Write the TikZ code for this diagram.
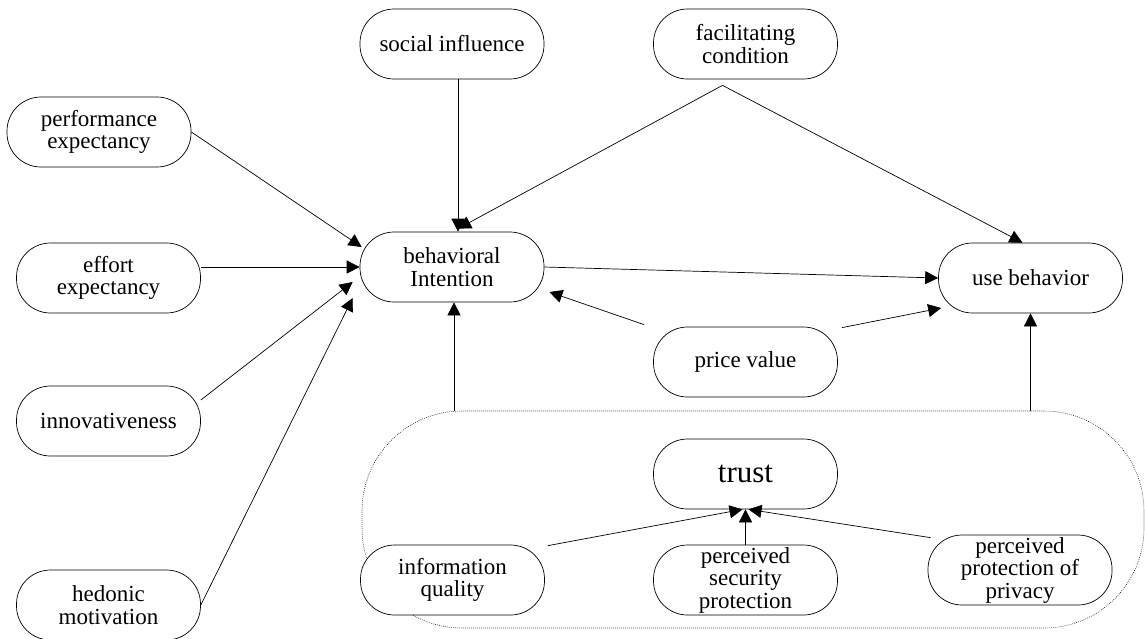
\documentclass[tikz,border=0pt]{standalone}
\usepackage{fontspec}
\setmainfont{Liberation Serif}
\usetikzlibrary{arrows.meta}
\tikzset{
  flowarrow/.style={-{Triangle[length=13pt, width=13pt]}, line width=0.7pt},
  construct/.style={draw, rounded corners=34pt, fill=white, line width=0.7pt, minimum width=184pt, minimum height=70pt, inner sep=1pt, align=center},
  groupbox/.style={draw, line width=0.6pt, dash pattern=on 0.7pt off 1.3pt, rounded corners=100pt, minimum width=782pt, minimum height=217pt}
}

\begin{document}
\begin{tikzpicture}[x=1pt, y=-1pt, every node/.style={font=\fontsize{23}{22.5}\selectfont}]
  \useasboundingbox (0,0) rectangle (1145,638);
  % trust group
  \node[groupbox] (tgrp) at (753,519.5) {};
  \node[construct] (soc) at (452,44) {social influence};
  \node[construct] (fac) at (745.5,44) {facilitating\\condition};
  \node[construct] (perf) at (99,132) {performance\\expectancy};
  \node[construct] (eff) at (108.5,278) {effort\\expectancy};
  \node[construct] (bi) at (452,267) {behavioral\\Intention};
  \node[construct] (ub) at (1030.5,278) {use behavior};
  \node[construct] (inn) at (108.5,421) {innovativeness};
  \node[construct] (hed) at (108.5,605) {hedonic\\motivation};
  \node[construct] (pv) at (745.5,362) {price value};
  \node[construct, font=\fontsize{31}{31}\selectfont] (trust) at (745.5,474) {trust};
  \node[construct] (iq) at (452.5,580) {information\\quality};
  \node[construct] (psp) at (745.5,580) {perceived\\security\\protection};
  \node[construct] (ppp) at (1020,570) {perceived\\protection of\\privacy};

  \draw[flowarrow] (perf.east) -- ([shift={(2,-20)}]bi.west);
  \draw[flowarrow] (eff.east |- bi.west) -- (bi.west);
  \draw[flowarrow] ([shift={(0,-21)}]inn.east) -- ([shift={(-7,15)}]bi.west);
  \draw[flowarrow] (hed.east) -- ([shift={(-7,31)}]bi.west);
  \draw[flowarrow] ([xshift=6pt]soc.south) -- ([xshift=6pt]bi.north);
  \draw[flowarrow] ([shift={(-23,6)}]fac.south) -- ([shift={(6,-3)}]bi.north);
  \draw[flowarrow] ([shift={(-23,6)}]fac.south) -- ([xshift=-8pt]ub.north);
  \draw[flowarrow] (bi.east) -- (ub.west);
  \draw[flowarrow] ([shift={(-9,-2)}]pv.north west) -- ([shift={(5,25)}]bi.east);
  \draw[flowarrow] ([shift={(4,1)}]pv.north east) -- ([shift={(3,30)}]ub.west);
  \draw[flowarrow] ([xshift=2pt]bi.south |- tgrp.north) -- ([xshift=2pt]bi.south);
  \draw[flowarrow] (ub.south |- tgrp.north) -- (ub.south);
  \draw[flowarrow] ([shift={(3,1)}]iq.north east) -- ([xshift=-3pt]trust.south);
  \draw[flowarrow] (psp.north) -- (trust.south);
  \draw[flowarrow] ([shift={(3,3)}]ppp.north west) -- ([xshift=3pt]trust.south);
\end{tikzpicture}
\end{document}
